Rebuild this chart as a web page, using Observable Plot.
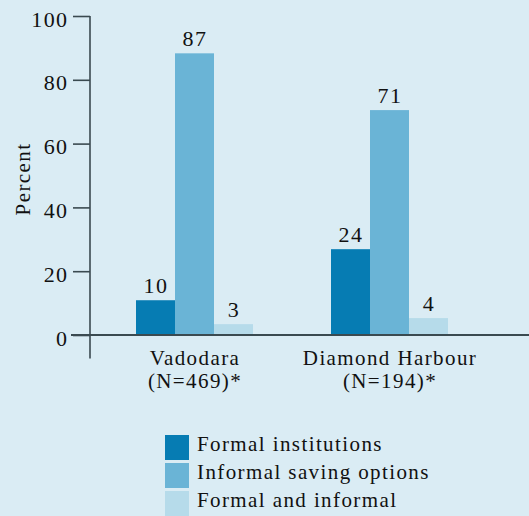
<!DOCTYPE html>
<html>
<head>
<meta charset="utf-8">
<script src="https://cdn.jsdelivr.net/npm/d3@7"></script>
<script src="https://cdn.jsdelivr.net/npm/@observablehq/plot@0.6"></script>
<style>
  html, body { margin: 0; padding: 0; background: #daecf4; }
  #chart { width: 529px; height: 516px; position: relative; overflow: hidden; background: #daecf4; }
  .legend { padding-left: 165px; padding-top: 15px; font-family: "Liberation Serif", serif; font-size: 21px; letter-spacing: 1.4px; color: #111; }
  .legend .row { display: flex; align-items: flex-start; height: 25px; margin-bottom: 3px; }
  .legend .sw { width: 24px; height: 25px; flex: none; }
  .legend .lb { margin-left: 8px; line-height: 25px; position: relative; top: -3px; white-space: nowrap; }
</style>
</head>
<body>
<div id="chart"></div>
<script>
// ---- data ----
const locations = ["Vadodara", "Diamond Harbour"];
const locationLabels = ["Vadodara\n(N=469)*", "Diamond Harbour\n(N=194)*"];
const series = ["Formal institutions", "Informal saving options", "Formal and informal"];
const vadodaraBars = [10.9, 88.3, 3.4];
const diamondBars = [26.9, 70.5, 5.3];
const vadodaraLabels = ["10", "87", "3"];
const diamondLabels = ["24", "71", "4"];
const yTicks = [0, 20, 40, 60, 80, 100];
const colors = ["#067cb3", "#6ab4d6", "#b6dbea"];

// ---- tables ----
const barsByLoc = [vadodaraBars, diamondBars];
const labelsByLoc = [vadodaraLabels, diamondLabels];
const rows = [];
locations.forEach((loc, i) => {
  series.forEach((s, j) => {
    rows.push({location: loc, series: s, value: barsByLoc[i][j], label: labelsByLoc[i][j]});
  });
});
const groups = locations.map((loc, i) => ({location: loc, label: locationLabels[i]}));

const plot = Plot.plot({
  width: 529,
  height: 420,
  marginLeft: 97,
  marginRight: 42,
  marginTop: 16,
  marginBottom: 85,
  style: {background: "transparent", fontFamily: "Liberation Serif", fontSize: "22px", color: "#111", letterSpacing: "1.4px"},
  fx: {domain: locations, paddingInner: 0, paddingOuter: 0, axis: null, label: null},
  x: {domain: series, paddingInner: 0, paddingOuter: 1, axis: null, label: null},
  y: {domain: [0, 100], label: null},
  color: {domain: series, range: colors},
  marks: [
    Plot.barY(rows, {fx: "location", x: "series", y: "value", fill: "series"}),
    Plot.text(rows, {fx: "location", x: "series", y: "value", text: "label", dy: -8, lineAnchor: "bottom", fill: "#111", fontSize: 22}),
    Plot.text(groups, {fx: "location", text: "label", frameAnchor: "bottom", lineAnchor: "top", dy: 12, lineHeight: 1.14, fill: "#111", fontSize: 21}),
    Plot.text([{location: locations[0], t: "Percent"}], {fx: "location", text: "t", frameAnchor: "left", textAnchor: "middle", rotate: -90, lineAnchor: "bottom", dx: -68, dy: 3, fill: "#111", fontSize: 21}),
    // tick marks
    Plot.axisY({ticks: yTicks, tickSize: 17, dx: -7, fill: "none", stroke: "#3a4a50", strokeWidth: 1.6, label: null}),
    // tick labels
    Plot.axisY({ticks: yTicks, tickSize: 0, dx: -7, tickPadding: 22, dy: 3, fontSize: 22, fill: "#111", label: null})
  ]
});

document.getElementById("chart").appendChild(plot);

// axis lines drawn from the plot's own y scale
const ys = plot.scale("y");
const svg = d3.select(plot);
const y0 = ys.apply(0), y100 = ys.apply(100);
svg.append("line").attr("x1", 71).attr("x2", 529).attr("y1", y0).attr("y2", y0)
  .attr("stroke", "#3a4a50").attr("stroke-width", 1.8);
svg.append("line").attr("x1", 90).attr("x2", 90).attr("y1", y100).attr("y2", y0 + 23.5)
  .attr("stroke", "#3a4a50").attr("stroke-width", 1.6);

// legend
const legend = d3.select("#chart").append("div").attr("class", "legend");
series.forEach((s, i) => {
  const r = legend.append("div").attr("class", "row");
  r.append("div").attr("class", "sw").style("background", colors[i]);
  r.append("div").attr("class", "lb").text(s);
});
</script>
</body>
</html>
